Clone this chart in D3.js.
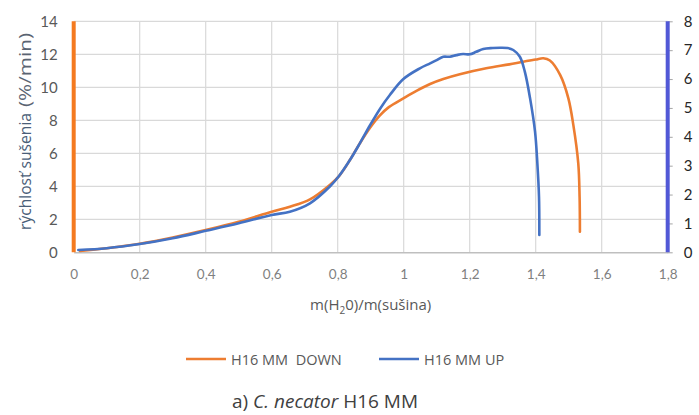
<!DOCTYPE html>
<html>
<head>
<meta charset="utf-8">
<script src="https://cdn.jsdelivr.net/npm/d3@7"></script>
<style>
  html, body { margin: 0; padding: 0; background: #fff; }
  svg { display: block; }
</style>
</head>
<body>
<svg id="chart" width="699" height="415"></svg>
<script>
// Drying rate vs moisture ratio, two runs
const xTicks = [0, 0.2, 0.4, 0.6, 0.8, 1, 1.2, 1.4, 1.6, 1.8];
const yTicksLeft = [0, 2, 4, 6, 8, 10, 12, 14];
const yTicksRight = [0, 1, 2, 3, 4, 5, 6, 7, 8];

const downX = [0.019, 0.1, 0.2, 0.3, 0.403, 0.5, 0.6, 0.655, 0.716, 0.777, 0.804, 0.837, 0.867, 0.898, 0.928, 0.955, 0.999, 1.04, 1.08, 1.12, 1.17, 1.25, 1.32, 1.362, 1.4, 1.423, 1.443, 1.474, 1.499, 1.514, 1.529, 1.533, 1.534];
const downY = [0.08, 0.25, 0.52, 0.9, 1.36, 1.85, 2.46, 2.76, 3.21, 4.1, 4.62, 5.59, 6.6, 7.55, 8.3, 8.8, 9.33, 9.8, 10.2, 10.5, 10.79, 11.15, 11.39, 11.55, 11.68, 11.76, 11.62, 10.75, 9.33, 7.72, 5.39, 3.37, 1.25];

const upX = [0.014, 0.1, 0.2, 0.3, 0.4, 0.5, 0.6, 0.655, 0.716, 0.777, 0.804, 0.837, 0.867, 0.898, 0.93, 0.958, 0.999, 1.049, 1.08, 1.1, 1.12, 1.14, 1.16, 1.18, 1.2, 1.22, 1.241, 1.27, 1.292, 1.315, 1.332, 1.352, 1.367, 1.383, 1.398, 1.405, 1.41, 1.411];
const upY = [0.14, 0.25, 0.5, 0.85, 1.3, 1.76, 2.26, 2.46, 2.97, 4.0, 4.62, 5.59, 6.6, 7.7, 8.75, 9.53, 10.5, 11.15, 11.45, 11.65, 11.85, 11.85, 11.95, 12.02, 12.0, 12.15, 12.32, 12.38, 12.4, 12.38, 12.26, 11.85, 10.95, 9.33, 7.31, 5.39, 3.37, 1.05];

const series = [
  { name: "H16 MM  DOWN", color: "#ED7D31", xs: downX, ys: downY },
  { name: "H16 MM UP", color: "#4472C4", xs: upX, ys: upY }
];

const svg = d3.select("#chart");
const plot = { left: 73.7, right: 667.7, top: 21.3, bottom: 252.3 };

const x = d3.scaleLinear().domain([0, 1.8]).range([plot.left, plot.right]);
const yL = d3.scaleLinear().domain([0, 14]).range([plot.bottom, plot.top]);
const yR = d3.scaleLinear().domain([0, 8]).range([plot.bottom, plot.top]);

// grid
const grid = svg.append("g");
grid.selectAll("line.h").data(yTicksLeft.slice(1)).join("line")
  .attr("x1", plot.left).attr("x2", plot.right)
  .attr("y1", d => yL(d)).attr("y2", d => yL(d))
  .attr("stroke", "#d9d9d9").attr("stroke-width", 1.2);
grid.selectAll("line.v").data(xTicks.slice(1, -1)).join("line")
  .attr("x1", d => x(d)).attr("x2", d => x(d))
  .attr("y1", plot.top).attr("y2", plot.bottom)
  .attr("stroke", "#d9d9d9").attr("stroke-width", 1.2);

// x axis
const xAxis = svg.append("g").attr("transform", `translate(0,${plot.bottom})`)
  .call(d3.axisBottom(x).tickValues(xTicks).tickSize(0).tickPadding(17)
    .tickFormat(d => String(d).replace(".", ",")));
xAxis.select(".domain").attr("stroke", "#bfbfbf").attr("stroke-width", 1.5);
xAxis.selectAll("text").attr("fill", "#7f7f7f").style("font-family", "Lato, sans-serif").style("font-size", "13.5px");

// left axis
const yAxisL = svg.append("g").attr("transform", `translate(${plot.left},0)`)
  .call(d3.axisLeft(yL).tickValues(yTicksLeft).tickSize(0).tickPadding(16));
yAxisL.select(".domain").remove();
yAxisL.selectAll("text").attr("fill", "#595959").style("font-family", "Lato, sans-serif").style("font-size", "15px");
svg.append("line")
  .attr("x1", plot.left).attr("x2", plot.left)
  .attr("y1", yL(14)).attr("y2", yL(0))
  .attr("stroke", "#F47A20").attr("stroke-width", 4);

// right axis
const yAxisR = svg.append("g").attr("transform", `translate(${plot.right},0)`)
  .call(d3.axisRight(yR).tickValues(yTicksRight).tickSize(5).tickPadding(11));
yAxisR.select(".domain").remove();
yAxisR.selectAll(".tick line").attr("stroke", "#a6a6a6");
yAxisR.selectAll("text").attr("fill", "#262626").style("font-family", "Lato, sans-serif").style("font-size", "15px");
svg.append("line")
  .attr("x1", plot.right).attr("x2", plot.right)
  .attr("y1", yR(8)).attr("y2", yR(0))
  .attr("stroke", "#5158D6").attr("stroke-width", 4);

// series lines
const line = d3.line().curve(d3.curveCatmullRom.alpha(0.5)).x(d => x(d[0])).y(d => yL(d[1]));
series.forEach(s => {
  const pts = s.xs.map((v, i) => [v, s.ys[i]]);
  svg.append("path").datum(pts)
    .attr("fill", "none").attr("stroke", s.color)
    .attr("stroke-width", 2.6).attr("stroke-linejoin", "round").attr("stroke-linecap", "round")
    .attr("d", line);
});

// axis titles
const xt = svg.append("text").attr("x", (plot.left + plot.right) / 2).attr("y", 310)
  .attr("text-anchor", "middle").attr("fill", "#595959")
  .style("font-family", "'Open Sans', sans-serif").style("font-size", "15px");
xt.append("tspan").text("m(H");
xt.append("tspan").text("2").attr("dy", 4).style("font-size", "10px");
xt.append("tspan").text("0)/m(sušina)").attr("dy", -4);

const ytFont = { family: "'Open Sans', sans-serif", size: "17px" };
svg.append("text")
  .attr("transform", "translate(31,230) rotate(-90)")
  .attr("textLength", 117).attr("lengthAdjust", "spacingAndGlyphs")
  .attr("fill", "#4A5E78")
  .style("font-family", ytFont.family).style("font-size", ytFont.size)
  .text("rýchlosť sušenia");
svg.append("text")
  .attr("transform", "translate(31,107) rotate(-90)")
  .attr("textLength", 74).attr("lengthAdjust", "spacingAndGlyphs")
  .attr("fill", "#5A6472")
  .style("font-family", ytFont.family).style("font-size", ytFont.size)
  .text("(%/min)");

// legend
const legend = svg.append("g");
const legendX = [186, 379];
series.forEach((s, i) => {
  legend.append("line")
    .attr("x1", legendX[i]).attr("x2", legendX[i] + 40)
    .attr("y1", 359).attr("y2", 359)
    .attr("stroke", s.color).attr("stroke-width", 2.6);
  legend.append("text")
    .attr("x", legendX[i] + 45).attr("y", 364.5)
    .attr("fill", "#595959")
    .style("font-family", "'Open Sans', sans-serif").style("font-size", "14.5px")
    .style("white-space", "pre").attr("xml:space", "preserve")
    .text(s.name);
});

// caption
const cap = svg.append("text").attr("x", 232).attr("y", 408)
  .attr("fill", "#404040")
  .style("font-family", "'Open Sans', sans-serif").style("font-size", "19px");
cap.append("tspan").text("a) ");
cap.append("tspan").text("C. necator").style("font-style", "italic");
cap.append("tspan").text(" H16 MM");
</script>
</body>
</html>
